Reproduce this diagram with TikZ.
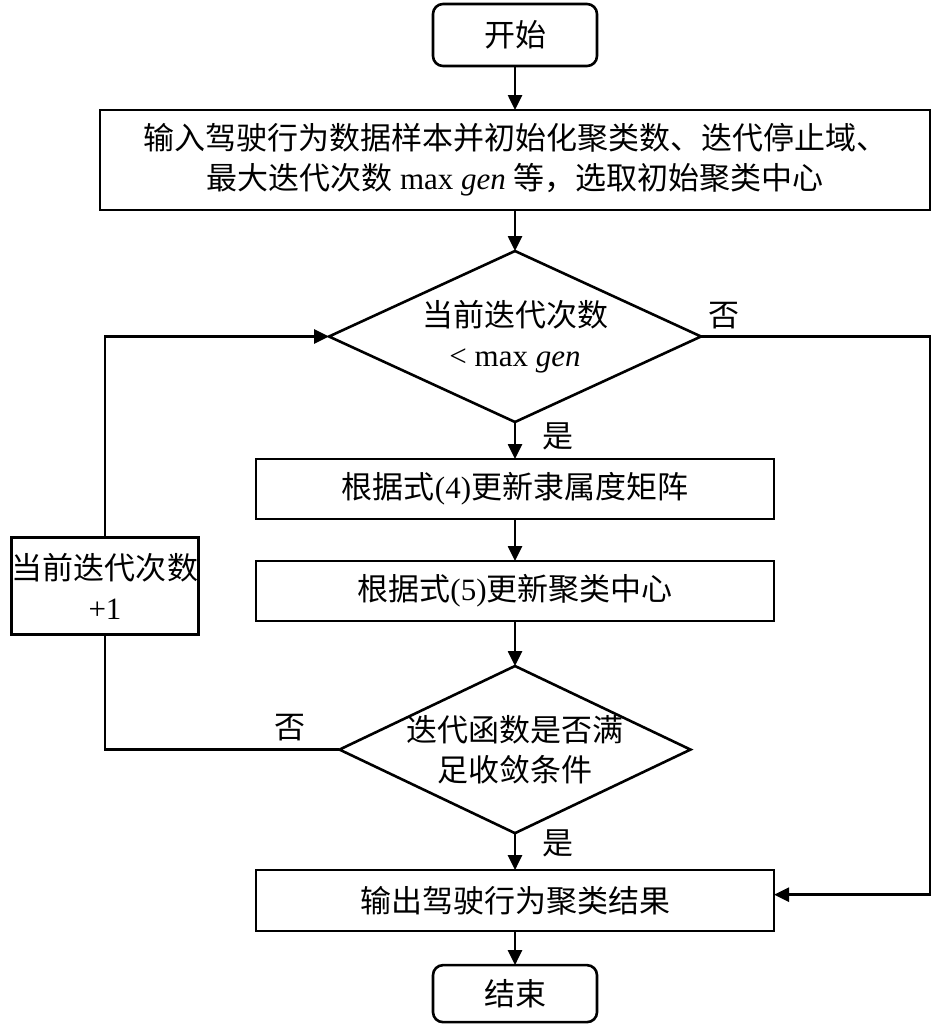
\documentclass[tikz,border=0pt]{standalone}
\usepackage{fontspec}
\setmainfont{Liberation Serif}
\newfontfamily\cjk{Noto Sans CJK SC}
\usepackage{tikz}
\usetikzlibrary{positioning}
\usetikzlibrary{shapes.geometric,arrows.meta}
\newcommand{\zh}[1]{{\cjk #1}}

\tikzset{
    base/.style     = {draw, line width=2.6pt, align=center, inner sep=0pt, outer sep=0pt,
                       font=\fontsize{31}{40}\selectfont},
    terminal/.style = {base, rounded corners=10pt, minimum width=164pt, minimum height=62pt},
    process/.style  = {base, rectangle, minimum width=518pt, minimum height=60pt},
    decision/.style = {base, diamond, aspect=2.1},
    flow/.style     = {line width=2.6pt, -{Triangle[length=15pt,width=14pt]}},
    link/.style     = {line width=2.6pt},
    tag/.style      = {inner sep=0pt, font=\fontsize{31}{36}\selectfont},
}

\begin{document}
\begin{tikzpicture}[x=1pt,y=1pt]

    \useasboundingbox (0,0) rectangle (946,-1025);

    %Main column
    \node[terminal] (start) at (515,-35) {\zh{开始}};

    \node[process, minimum width=830pt, minimum height=100pt, below = 44pt of start] (init)
        {\zh{输入驾驶行为数据样本并初始化聚类数、迭代停止域、}\\
         \zh{最大迭代次数} max \textit{gen} \zh{等，选取初始聚类中心}};

    \node[decision, minimum width=372pt, minimum height=171pt, below = 41pt of init] (iter)
        {\zh{当前迭代次数}\\\textless{} max \textit{gen}};

    \node[process, below = 37pt of iter] (member) {\zh{根据式}(4)\zh{更新隶属度矩阵}};

    \node[process, below = 42pt of member] (centre) {\zh{根据式}(5)\zh{更新聚类中心}};

    \node[decision, minimum width=344pt, minimum height=167pt, inner xsep=-5pt,
          below = 45pt of centre] (conv)
        {\zh{迭代函数是否满}\\\zh{足收敛条件}};

    \node[process, minimum height=61pt, below = 37pt of conv] (output) {\zh{输出驾驶行为聚类结果}};

    \node[terminal, minimum height=57pt, below = 34pt of output] (stop) {\zh{结束}};

    %Loop box
    \node[process, minimum width=187pt, minimum height=97pt] (incr) at (105,-586)
        {\zh{当前迭代次数}\\+1};

    \coordinate[above = 6pt of output.east] (outin);

    %-------------------------------------------
    %Connectors
    \draw[flow] (start) -- (init);
    \draw[flow] (init) -- (iter);
    \draw[flow] (iter) -- node[tag, right = 26pt, yshift=4pt] {\zh{是}} (member);
    \draw[flow] (member) -- (centre);
    \draw[flow] (centre) -- (conv);
    \draw[flow] (conv) -- node[tag, right = 26pt, yshift=8pt] {\zh{是}} (output);
    \draw[flow] (output) -- (stop);

    \draw[link] (conv.west) -- node[tag, pos=0.21, above = 7pt] {\zh{否}} (conv.west -| incr.south) -- (incr.south);
    \draw[flow] (incr.north) |- (iter.west);

    \draw[flow] (iter.east) -- node[tag, pos=0.1, above = 6pt] {\zh{否}} (iter.east -| init.east) |- (outin);

\end{tikzpicture}
\end{document}
